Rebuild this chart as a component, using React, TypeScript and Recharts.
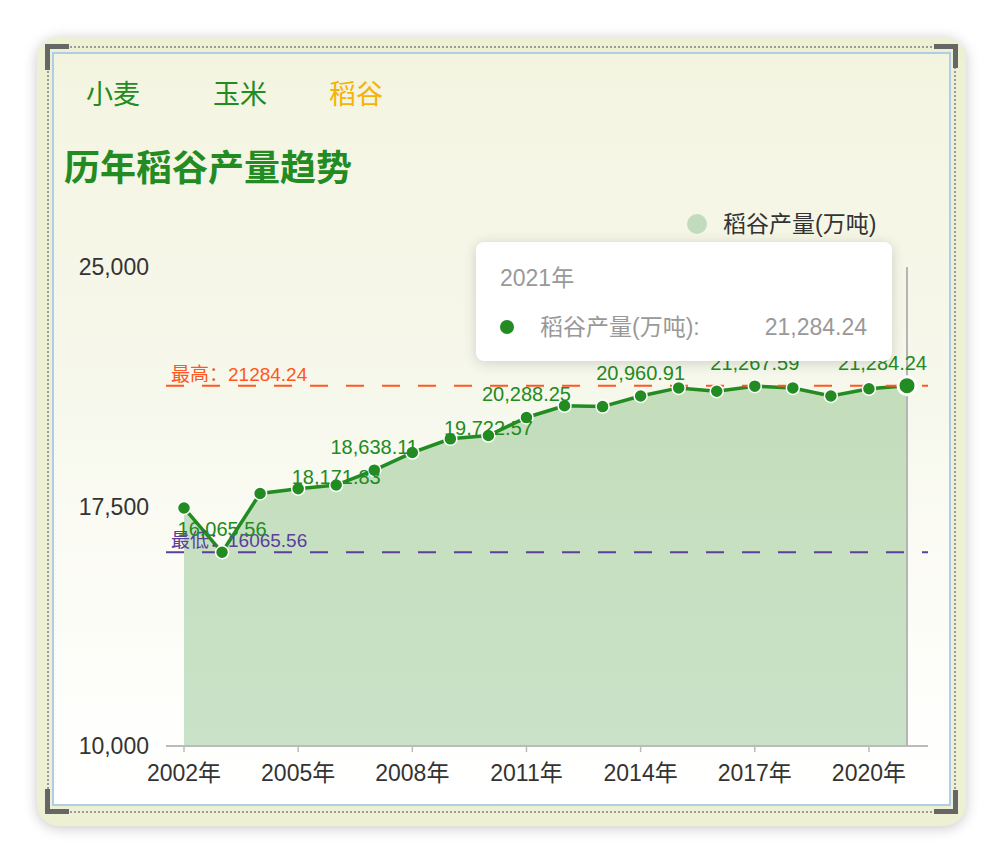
import React from 'react';
import {
  ComposedChart,
  Area,
  XAxis,
  YAxis,
  Tooltip,
  ReferenceLine,
  LabelList,
} from 'recharts';

const years = [
  '2002年', '2003年', '2004年', '2005年', '2006年', '2007年', '2008年', '2009年', '2010年', '2011年',
  '2012年', '2013年', '2014年', '2015年', '2016年', '2017年', '2018年', '2019年', '2020年', '2021年',
];
const riceOutput = [
  17453.85, 16065.56, 17908.76, 18058.84, 18171.83, 18638.11, 19189.57, 19619.7, 19722.57, 20288.25,
  20653.23, 20628.56, 20960.91, 21214.19, 21109.42, 21267.59, 21212.9, 20961.4, 21185.96, 21284.24,
];
const labeledYears = ['2003年', '2006年', '2007年', '2010年', '2011年', '2014年', '2017年', '2021年'];
const yTicks = [10000, 17500, 25000];
const tabs = ['小麦', '玉米', '稻谷'];
const activeTab = '稻谷';
const chartTitle = '历年稻谷产量趋势';
const seriesName = '稻谷产量(万吨)';

const data = years.map((year, i) => ({ year, value: riceOutput[i] }));
const maxValue = Math.max(...riceOutput);
const minValue = Math.min(...riceOutput);

const FONT = "'Liberation Sans', Arial, 'Noto Sans CJK SC', sans-serif";
const GREEN = '#228b22';

const fmt2 = (v: number) =>
  v.toLocaleString('en-US', { minimumFractionDigits: 2, maximumFractionDigits: 2 });
const fmt0 = (v: number) => v.toLocaleString('en-US');

// labels that sit lower (overlapping the line) in the reference
const lowLabelYears = ['2006年', '2010年'];

const PointLabel = (props: any) => {
  const { x, y, value, index } = props;
  if (!labeledYears.includes(years[index])) return null;
  const last = index === years.length - 1;
  const lift = lowLabelYears.includes(years[index]) ? 1 : 16;
  return (
    <text
      x={last ? x + 20 : x}
      y={y - lift}
      textAnchor={last ? 'end' : 'middle'}
      fill={GREEN}
      fontSize={20}
      fontFamily={FONT}
    >
      {fmt2(value)}
    </text>
  );
};

const renderDot = (props: any) => {
  const { cx, cy, index } = props;
  if (cx == null || cy == null) return <g key={`d${index}`} />;
  return (
    <circle key={`d${index}`} cx={cx} cy={cy} r={6.5} fill={GREEN} stroke="#fff" strokeWidth={1.5} />
  );
};

const renderActiveDot = (props: any) => {
  const { cx, cy } = props;
  if (cx == null || cy == null) return <g />;
  return <circle cx={cx} cy={cy} r={9} fill={GREEN} stroke="#fff" strokeWidth={3} />;
};

const TipContent = (props: any) => {
  const { payload } = props;
  if (!payload || !payload.length) return null;
  const p = payload[0];
  return (
    <div
      style={{
        position: 'relative',
        width: 416,
        height: 119,
        background: '#fff',
        borderRadius: 8,
        boxShadow: '0 2px 14px rgba(0,0,0,0.16)',
        fontFamily: FONT,
        color: '#999',
        fontSize: 23,
      }}
    >
      <div style={{ position: 'absolute', left: 24, top: 22, lineHeight: '28px', whiteSpace: 'nowrap' }}>
        {p.payload.year}
      </div>
      <div
        style={{
          position: 'absolute',
          left: 24,
          top: 78,
          width: 14,
          height: 14,
          borderRadius: 7,
          background: GREEN,
        }}
      />
      <div style={{ position: 'absolute', left: 64, top: 71, lineHeight: '28px', whiteSpace: 'nowrap' }}>
        {seriesName}:
      </div>
      <div style={{ position: 'absolute', right: 25, top: 71, lineHeight: '28px', whiteSpace: 'nowrap' }}>
        {fmt2(p.value)}
      </div>
    </div>
  );
};

const bracket = (left: number, top: number, w: number, h: number) => (
  <div style={{ position: 'absolute', left, top, width: w, height: h, background: '#666' }} />
);

export default function App() {
  return (
    <div
      style={{
        position: 'absolute',
        left: 0,
        top: 0,
        width: 1002,
        height: 862,
        background: '#fff',
        overflow: 'hidden',
        fontFamily: FONT,
      }}
    >
      {/* outer card */}
      <div
        style={{
          position: 'absolute',
          left: 37,
          top: 37,
          width: 929,
          height: 789,
          borderRadius: 22,
          background: '#eef0d3',
          boxShadow: '0 2px 14px rgba(0,0,0,0.22)',
        }}
      />
      {/* dotted frame */}
      <div
        style={{
          position: 'absolute',
          left: 47,
          top: 46,
          width: 909,
          height: 767,
          border: '2px dotted #9a9a9a',
          boxSizing: 'border-box',
        }}
      />
      {/* inner panel */}
      <div
        style={{
          position: 'absolute',
          left: 52,
          top: 52,
          width: 899,
          height: 754,
          border: '2px solid #b0cde8',
          boxSizing: 'border-box',
          background: 'linear-gradient(to bottom, #f3f4e0 0%, #f7f8ec 45%, #fdfdf9 80%, #ffffff 100%)',
        }}
      />
      {/* corner brackets */}
      {bracket(45, 44, 24, 5)}
      {bracket(45, 44, 5, 26)}
      {bracket(934, 44, 24, 5)}
      {bracket(953, 44, 5, 24)}
      {bracket(45, 789, 5, 25)}
      {bracket(45, 809, 24, 5)}
      {bracket(953, 790, 5, 24)}
      {bracket(934, 809, 24, 5)}

      {/* tabs */}
      {tabs.map((t, i) => (
        <div
          key={t}
          style={{
            position: 'absolute',
            left: [86, 213, 329][i],
            top: 78,
            fontSize: 27,
            lineHeight: '34px',
            color: t === activeTab ? '#f5b20a' : GREEN,
            whiteSpace: 'nowrap',
          }}
        >
          {t}
        </div>
      ))}
      {/* title */}
      <div
        style={{
          position: 'absolute',
          left: 64,
          top: 147,
          fontSize: 36,
          lineHeight: '44px',
          fontWeight: 700,
          color: GREEN,
          whiteSpace: 'nowrap',
        }}
      >
        {chartTitle}
      </div>
      {/* legend */}
      <div style={{ position: 'absolute', left: 687, top: 214, width: 20, height: 20, borderRadius: 10, background: '#c3dbbd' }} />
      <div
        style={{
          position: 'absolute',
          left: 723,
          top: 209,
          fontSize: 23,
          lineHeight: '30px',
          color: '#333',
          whiteSpace: 'nowrap',
        }}
      >
        {seriesName}
      </div>

      {/* chart */}
      <div style={{ position: 'absolute', left: 0, top: 0, width: 1002, height: 862 }}>
        <ComposedChart
          width={1002}
          height={862}
          data={data}
          margin={{ top: 267, right: 74, bottom: 76, left: 76 }}
        >
          <XAxis
            dataKey="year"
            interval={2}
            padding={{ left: 18, right: 21 }}
            height={40}
            axisLine={{ stroke: '#bbb', strokeWidth: 2 }}
            tickLine={{ stroke: '#bbb', strokeWidth: 1.5 }}
            tickSize={6}
            tickMargin={13}
            tick={{ fill: '#333', fontSize: 23, fontFamily: FONT }}
          />
          <YAxis
            width={90}
            domain={[10000, 25000]}
            ticks={yTicks}
            axisLine={false}
            tickLine={false}
            tickSize={0}
            tickMargin={17}
            tickFormatter={fmt0}
            tick={{ fill: '#333', fontSize: 23, fontFamily: FONT }}
          />
          <ReferenceLine
            y={maxValue}
            stroke="#ff5722"
            strokeWidth={2}
            strokeDasharray="18 18"
            label={{
              value: `最高：${maxValue}`,
              position: 'insideBottomLeft',
              offset: 5,
              fill: '#ff5722',
              fontSize: 19,
              fontFamily: FONT,
            }}
          />
          <ReferenceLine
            y={minValue}
            stroke="#5b3f9a"
            strokeWidth={2}
            strokeDasharray="18 18"
            label={{
              value: `最低：${minValue}`,
              position: 'insideBottomLeft',
              offset: 5,
              fill: '#5b3f9a',
              fontSize: 19,
              fontFamily: FONT,
            }}
          />
          <Area
            type="linear"
            dataKey="value"
            name={seriesName}
            stroke={GREEN}
            strokeWidth={3.5}
            fill={GREEN}
            fillOpacity={0.24}
            isAnimationActive={false}
            dot={renderDot}
            activeDot={renderActiveDot}
          >
            <LabelList dataKey="value" content={PointLabel} />
          </Area>
          <Tooltip
            active
            defaultIndex={19}
            position={{ x: 476, y: 242 }}
            isAnimationActive={false}
            cursor={{ stroke: '#b5b5b5', strokeWidth: 2 }}
            content={TipContent}
            wrapperStyle={{ outline: 'none', zIndex: 10 }}
          />
        </ComposedChart>
      </div>
    </div>
  );
}
